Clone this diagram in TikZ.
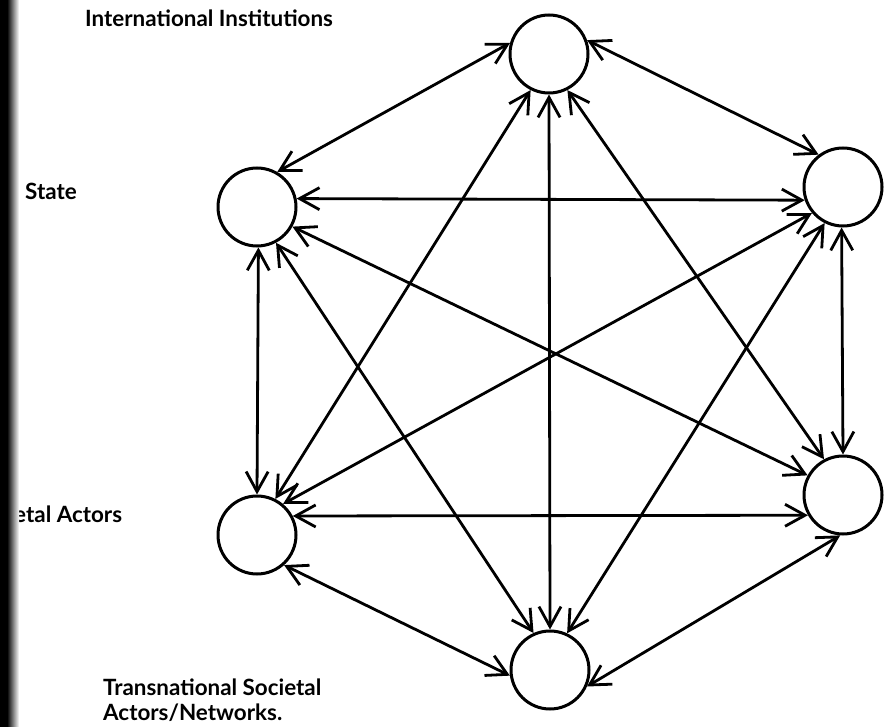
\documentclass[tikz,border=0pt]{standalone}
\usepackage{fontspec}
\setmainfont{Lato}
\usetikzlibrary{arrows.meta}
\begin{document}
\begin{tikzpicture}[x=1pt,y=-1pt,
  actor/.style={circle, draw, line width=3pt, minimum size=78pt, inner sep=0pt},
  link/.style={line width=2.8pt, line cap=butt, {Straight Barb[length=20pt,width=22pt]}-{Straight Barb[length=20pt,width=22pt]}},
  lab/.style={font=\fontsize{22.4}{26}\selectfont\bfseries, inner sep=0pt, anchor=base west}]
\useasboundingbox (0,0) rectangle (888,727);
\fill[white] (0,0) rectangle (888,727);
% actors
\node[actor] (T)  at (549,54)  {};
\node[actor] (UL) at (257,207) {};
\node[actor] (UR) at (843,187) {};
\node[actor] (LR) at (843,495) {};
\node[actor] (LL) at (257,535) {};
\node[actor] (B)  at (550,670) {};
% links
\draw[link] (T.164) -- (UL.60);
\draw[link] (T.20) -- (UR.127);
\draw[link] (T.270) -- (B.90);
\draw[link] (T.243) -- (LL.63);
\draw[link] (T.297) -- (LR.118);
\draw[link] (UL.12) -- (UR.199);
\draw[link] (UL.272) -- (LL.90);
\draw[link] (UL.331) -- (LR.151);
\draw[link] (UL.298) -- (B.114);
\draw[link] (UR.220) -- (LL.50);
\draw[link] (UR.268) -- (LR.90);
\draw[link] (UR.243) -- (B.65);
\draw[link] (LR.210) -- (LL.28);
\draw[link] (LR.266) -- (B.336);
\draw[link] (LL.312) -- (B.188);
% labels
\node[lab] (ii) at (85,27) {International Institutions};
\node[lab] (st) at (25,200) {State};
\node[lab] (sa) at (14,522) {etal Actors};
\node[lab] (tn1) at (103,695) {Transnational Societal};
\node[lab] (tn2) at (103,720) {Actors/Networks.};
% scanned edge
\fill[black] (0,0) rectangle (7,727);
\shade[left color=black, right color=white] (7,0) rectangle (19,727);
\end{tikzpicture}
\end{document}
